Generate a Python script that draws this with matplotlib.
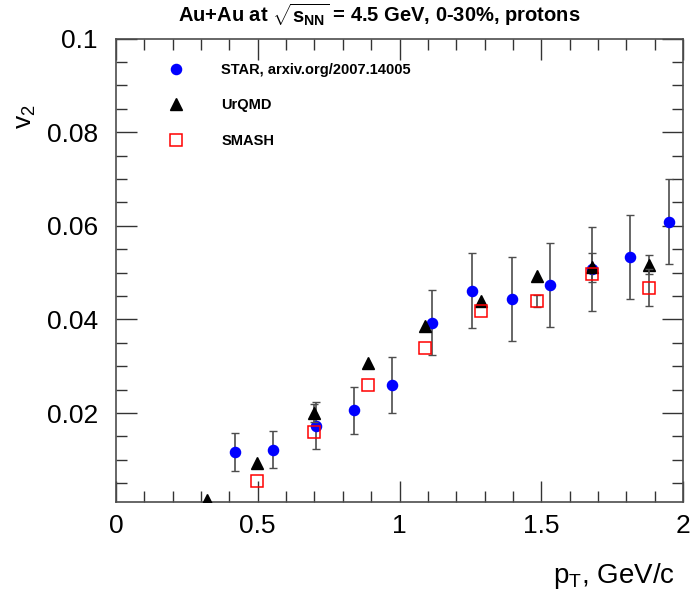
import numpy as np
import matplotlib
matplotlib.use("Agg")
import matplotlib.pyplot as plt
from matplotlib.ticker import MultipleLocator

plt.rcParams['font.family'] = ['Liberation Sans', 'DejaVu Sans']
plt.rcParams['mathtext.fontset'] = 'custom'
plt.rcParams['mathtext.rm'] = 'Liberation Sans'
plt.rcParams['mathtext.it'] = 'Liberation Sans:italic'
plt.rcParams['mathtext.bf'] = 'Liberation Sans:bold'

# STAR data, arxiv.org/2007.14005
star_pt = [0.42, 0.555, 0.707, 0.84, 0.973, 1.116, 1.256, 1.396, 1.531, 1.678, 1.813, 1.952]
star_v2 = [0.0117, 0.0122, 0.0173, 0.0206, 0.0259, 0.0393, 0.0461, 0.0444, 0.0473, 0.0507, 0.0534, 0.0609]
star_err = [0.004, 0.004, 0.005, 0.005, 0.006, 0.007, 0.008, 0.009, 0.009, 0.009, 0.009, 0.009]

# UrQMD
urqmd_pt = [0.322, 0.498, 0.70, 0.89, 1.09, 1.286, 1.485, 1.678, 1.879]
urqmd_v2 = [0.0015, 0.0094, 0.0200, 0.0306, 0.0386, 0.0439, 0.0493, 0.0511, 0.0517]
urqmd_err = [0.0, 0.0, 0.002, 0.0, 0.0, 0.0, 0.0, 0.003, 0.002]

# SMASH
smash_pt = [0.496, 0.70, 0.89, 1.09, 1.286, 1.485, 1.678, 1.879]
smash_v2 = [0.0055, 0.0159, 0.0259, 0.0338, 0.0417, 0.0439, 0.0497, 0.0468]
smash_err = [0.0, 0.0, 0.0, 0.0, 0.0, 0.0013, 0.0, 0.004]


def draw_errors(x, y, e, z):
    x, y, e = np.array(x), np.array(y), np.array(e)
    m = e > 0
    ax.errorbar(x[m], y[m], yerr=e[m], fmt='none', ecolor='0.3',
                elinewidth=1.2, capsize=3, capthick=1, zorder=z)


fig = plt.figure(figsize=(6.9, 5.94), dpi=100)
ax = fig.add_axes([0.168, 0.155, 0.822, 0.780])

draw_errors(star_pt, star_v2, star_err, 2)
ax.plot(star_pt, star_v2, 'o', color='blue', ms=7.3,
        label='STAR, arxiv.org/2007.14005', zorder=3)
draw_errors(urqmd_pt, urqmd_v2, urqmd_err, 3.5)
ax.plot(urqmd_pt, urqmd_v2, '^', color='black', ms=8.5, label='UrQMD', zorder=4)
draw_errors(smash_pt, smash_v2, smash_err, 4.5)
ax.plot(smash_pt, smash_v2, 's', mfc='none', mec='red', mew=1.1, ms=8,
        label='SMASH', zorder=5)

ax.set_xlim(0, 2)
ax.set_ylim(0.001, 0.1)
ax.xaxis.set_minor_locator(MultipleLocator(0.1))
ax.yaxis.set_minor_locator(MultipleLocator(0.005))
ax.set_xticks([0, 0.5, 1, 1.5, 2])
ax.set_xticklabels(['0', '0.5', '1', '1.5', '2'])
ax.set_yticks([0.02, 0.04, 0.06, 0.08, 0.1])
ax.set_yticklabels(['0.02', '0.04', '0.06', '0.08', '0.1'])
ax.tick_params(which='both', direction='in', top=True, right=True, labelsize=19,
               width=1, color='0.2')
ax.tick_params(which='major', length=15)
ax.tick_params(axis='x', which='major', pad=9)
ax.tick_params(axis='y', which='major', pad=13)
ax.tick_params(which='minor', length=8)
for sp in ax.spines.values():
    sp.set_linewidth(1.2)
    sp.set_color('0.3')

fig.text(0.549, 0.975, r'Au+Au at $\mathbf{\sqrt{s_{NN}}}$ = 4.5 GeV, 0-30%, protons',
         fontsize=14.5, fontweight='bold', ha='center', va='center')
fig.text(0.978, 0.018, r'p$_\mathrm{T}$, GeV/c', fontsize=20, ha='right', va='baseline')
fig.text(0.037, 0.803, r'v$_2$', fontsize=19, rotation=90, ha='center', va='center')

leg = ax.legend(loc='upper left', bbox_to_anchor=(0.07, 0.975), frameon=False,
                prop={'weight': 'bold', 'size': 10.5}, handlelength=1.0,
                handletextpad=2.6, labelspacing=1.45, numpoints=1)

fig.savefig('out.png', dpi=100)
